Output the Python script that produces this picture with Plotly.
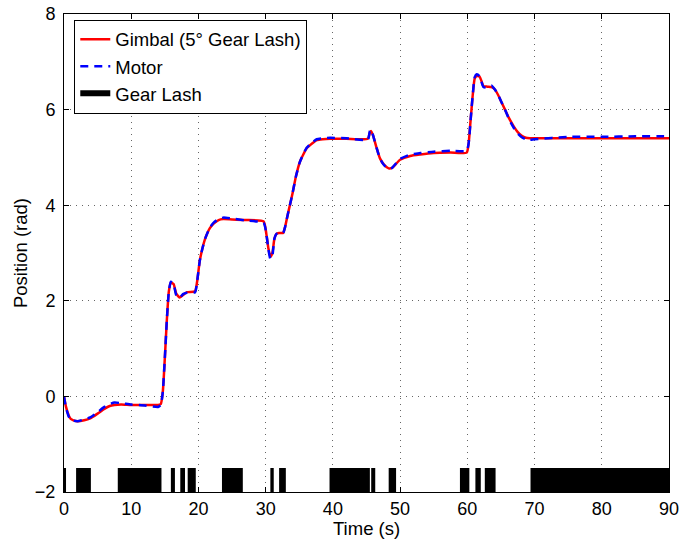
import plotly.graph_objects as go

# ---- data ----
time_s = [0, 0.3, 0.7, 1.0, 1.4, 2.0, 3.0, 3.9, 5.0, 6.0, 6.8, 7.5, 8.5, 10, 12, 14,
          14.4, 14.7, 15.0, 15.3, 15.6, 15.9, 16.3, 16.7, 17.2, 17.7, 18.3, 19.5,
          19.8, 20.2, 20.6, 21.0, 21.7, 22.3, 23.0, 23.7, 25, 27, 29.7, 30.1, 30.4,
          30.7, 31.0, 31.3, 31.6, 32.0, 32.6, 32.9, 33.2, 33.6, 34.0, 34.5, 35.1,
          36.1, 37.0, 37.6, 38.5, 39.6, 42, 45.2, 45.5, 45.7, 46.0, 46.5, 47.0,
          47.6, 48.3, 48.8, 49.3, 50.0, 51.5, 53, 55, 57.5, 59.9, 60.2, 60.5, 60.8,
          61.1, 61.4, 61.8, 62.1, 62.4, 63.0, 63.6, 64.1, 64.6, 65.1, 65.6, 66.2,
          66.9, 67.5, 68.1, 68.7, 69.3, 70, 75, 80, 85, 90]

gimbal = [0.0, -0.22, -0.40, -0.47, -0.50, -0.52, -0.50, -0.46, -0.36, -0.26, -0.20,
          -0.18, -0.17, -0.18, -0.18, -0.18,
          -0.16, 0.1, 0.8, 1.6, 2.2, 2.38, 2.35, 2.15, 2.07, 2.12, 2.18, 2.2,
          2.4, 2.84, 3.1, 3.3, 3.52, 3.62, 3.69, 3.71, 3.70, 3.69, 3.66, 3.4, 3.1,
          2.92, 3.0, 3.3, 3.40, 3.42, 3.42, 3.55, 3.75, 4.0, 4.25, 4.6, 4.91,
          5.19, 5.30, 5.36, 5.38, 5.39, 5.39, 5.39, 5.52, 5.55, 5.45, 5.2, 4.98,
          4.85, 4.77, 4.78, 4.85, 4.95, 5.03, 5.06, 5.09, 5.10, 5.10, 5.3, 5.8, 6.3,
          6.65, 6.70, 6.69, 6.6, 6.49, 6.48, 6.47, 6.42, 6.3, 6.15, 6.0, 5.82,
          5.65, 5.53, 5.45, 5.41, 5.40, 5.40, 5.40, 5.40, 5.40, 5.40]

motor = [0.0, -0.24, -0.42, -0.49, -0.51, -0.52, -0.48, -0.44, -0.33, -0.22, -0.16,
         -0.13, -0.14, -0.17, -0.19, -0.22,
         -0.18, 0.1, 0.8, 1.6, 2.2, 2.40, 2.35, 2.12, 2.06, 2.14, 2.17, 2.18,
         2.4, 2.84, 3.1, 3.3, 3.53, 3.64, 3.71, 3.74, 3.72, 3.68, 3.63, 3.4, 3.08,
         2.88, 2.95, 3.3, 3.40, 3.42, 3.42, 3.55, 3.75, 4.0, 4.25, 4.6, 4.91,
         5.20, 5.32, 5.38, 5.40, 5.41, 5.40, 5.37, 5.55, 5.58, 5.45, 5.2, 4.98,
         4.84, 4.76, 4.78, 4.86, 4.97, 5.06, 5.09, 5.12, 5.14, 5.14, 5.3, 5.8, 6.3,
         6.68, 6.74, 6.70, 6.58, 6.47, 6.46, 6.50, 6.42, 6.3, 6.15, 6.0, 5.80,
         5.62, 5.50, 5.42, 5.38, 5.37, 5.38, 5.43, 5.43, 5.44, 5.44]

lash_start = [0, 1.8, 8.0, 15.9, 17.3, 18.4, 23.5, 30.7, 32.0, 39.5, 45.7, 48.3,
              58.9, 61.2, 62.6, 69.4]
lash_end = [0.3, 4.0, 14.5, 16.5, 18.0, 19.6, 26.6, 31.2, 33.0, 45.5, 46.3, 49.4,
            60.3, 62.0, 64.2, 90]
lash_low = -2.0
lash_high = -1.5

x_ticks = [0, 10, 20, 30, 40, 50, 60, 70, 80, 90]
y_ticks = [-2, 0, 2, 4, 6, 8]

# ---- build gear lash rectangles from intervals ----
rx, ry = [], []
for s, e in zip(lash_start, lash_end):
    rx += [s, e, e, s, s, None]
    ry += [lash_low, lash_low, lash_high, lash_high, lash_low, None]

FONT = "Liberation Sans, Arial, sans-serif"

fig = go.Figure()
fig.add_trace(go.Scatter(x=time_s, y=gimbal, mode="lines", name="Gimbal (5° Gear Lash)",
                         line=dict(color="#ff0000", width=2.5, shape="spline", smoothing=0.5)))
fig.add_trace(go.Scatter(x=time_s, y=motor, mode="lines", name="Motor",
                         line=dict(color="#0000ff", width=2.5, dash="8px,6px",
                                   shape="spline", smoothing=0.5)))
fig.add_trace(go.Scatter(x=rx, y=ry, mode="none", fill="toself", fillcolor="black",
                         name="Gear Lash"))

axis_common = dict(
    showline=True, linecolor="black", linewidth=1, mirror="ticks",
    ticks="inside", ticklen=5, tickcolor="black", automargin=False,
    showgrid=True, gridcolor="#666666", griddash="1px,5px", gridwidth=1,
    zeroline=False, tickfont=dict(family=FONT, size=18, color="black"),
)

fig.update_layout(
    width=683, height=542,
    margin=dict(l=64, r=14, t=14, b=50),
    paper_bgcolor="white", plot_bgcolor="white",
    font=dict(family=FONT, size=18, color="black"),
    xaxis=dict(range=[0, 90], tickvals=x_ticks, ticklabelstandoff=0, **axis_common),
    yaxis=dict(range=[-2, 8], tickvals=y_ticks, ticklabelstandoff=4,
               title=dict(text="Position (rad)", font=dict(size=18.5), standoff=2), **axis_common),
    legend=dict(x=0.017, y=0.988, xanchor="left", yanchor="top",
                bordercolor="black", borderwidth=1, bgcolor="white",
                font=dict(family=FONT, size=18.5), tracegroupgap=0),
    showlegend=True,
    annotations=[dict(text="Time (s)", xref="paper", yref="paper", x=0.5, y=0,
                      xanchor="center", yanchor="top", yshift=-24, showarrow=False,
                      font=dict(family=FONT, size=18.5, color="black"))],
)

fig.write_html("out.html", config={"displayModeBar": False},
               post_script="document.body.style.margin='0';document.body.style.overflow='hidden';")
